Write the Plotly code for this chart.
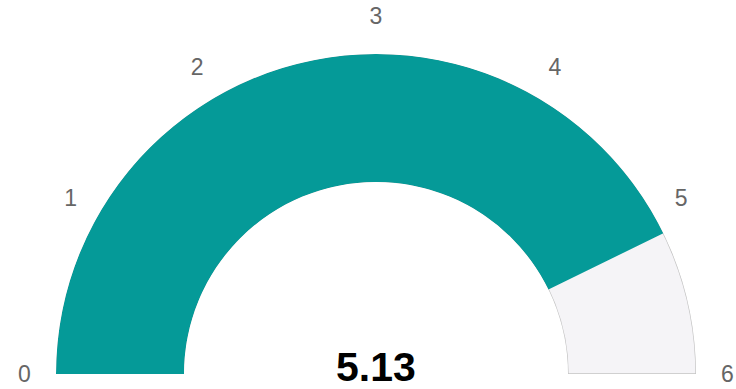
import plotly.graph_objects as go

value = 5.13
gauge_min = 0
gauge_max = 6
tick_values = [0, 1, 2, 3, 4, 5, 6]
tick_labels = ["0", "1", "2", "3", "4", "5", "6"]

deg_per_unit = 180.0 / (gauge_max - gauge_min)

fig = go.Figure()
# background track
fig.add_trace(go.Barpolar(
    r=[1], theta=[(gauge_max - gauge_min) * deg_per_unit / 2],
    width=[(gauge_max - gauge_min) * deg_per_unit],
    marker=dict(color="#f5f4f7", line=dict(color="#c4c4c4", width=1.4)),
    hoverinfo="skip", showlegend=False,
))
# value bar
fig.add_trace(go.Barpolar(
    r=[1], theta=[(value - gauge_min) * deg_per_unit / 2],
    width=[(value - gauge_min) * deg_per_unit],
    marker=dict(color="#059a98", line=dict(width=0)),
    showlegend=False,
))
fig.update_layout(
    width=736, height=389, margin=dict(l=0, r=0, t=0, b=0),
    paper_bgcolor="white",
    polar=dict(
        sector=[0, 180], hole=0.6, bgcolor="white",
        domain=dict(x=[56 / 736, 696 / 736], y=[15 / 389, 335 / 389]),
        radialaxis=dict(visible=False, range=[0, 1]),
        angularaxis=dict(
            rotation=180, direction="clockwise",
            tickmode="array",
            tickvals=[(v - gauge_min) * deg_per_unit - 360 for v in tick_values],
            ticktext=tick_labels,
            ticks="outside", ticklen=20, tickcolor="rgba(0,0,0,0)",
            showline=False, showgrid=False,
            tickfont=dict(size=23, color="#666666", family="Liberation Sans"),
        ),
    ),
    annotations=[dict(
        text="<b>%.2f</b>" % value, x=376 / 736, y=(389 - 367) / 389,
        xref="paper", yref="paper", showarrow=False,
        font=dict(size=41, color="#000000", family="Liberation Sans"),
        xanchor="center", yanchor="middle",
    )],
)
fig.write_html("out.html")
